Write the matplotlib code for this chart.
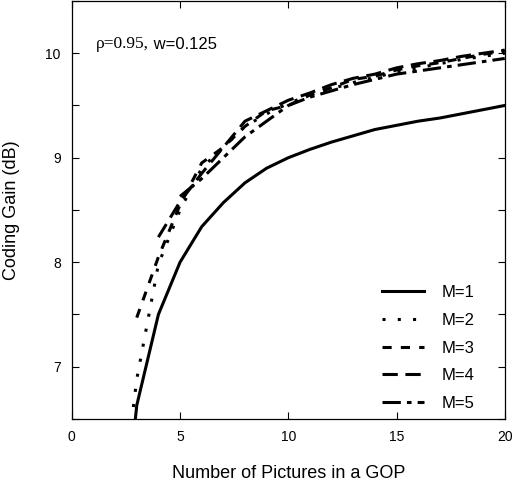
import numpy as np
import matplotlib.pyplot as plt

plt.rcParams['font.family'] = ['Liberation Sans', 'DejaVu Sans']

n1 = np.arange(1, 21)
m1 = [2.0, 4.6, 6.63, 7.5, 8.0, 8.34, 8.57, 8.76, 8.9, 9.0,
      9.08, 9.15, 9.21, 9.27, 9.31, 9.35, 9.38, 9.42, 9.46, 9.5]

n2 = np.arange(2, 21)
m2 = [5.2, 6.88, 7.98, 8.5, 8.9, 9.1, 9.3, 9.42, 9.52,
      9.6, 9.66, 9.72, 9.77, 9.82, 9.86, 9.9, 9.94, 9.97, 10.0]

n3 = np.arange(3, 21)
m3 = [7.47, 8.05, 8.55, 8.95, 9.1, 9.3, 9.45, 9.5,
      9.6, 9.67, 9.75, 9.78, 9.84, 9.88, 9.91, 9.95, 9.99, 10.02]

n4 = np.arange(4, 21)
m4 = [8.24, 8.58, 8.85, 9.1, 9.35, 9.45, 9.55,
      9.62, 9.7, 9.76, 9.8, 9.86, 9.9, 9.93, 9.97, 10.0, 10.03]

n5 = np.arange(5, 21)
m5 = [8.63, 8.8, 9.0, 9.2, 9.35, 9.5,
      9.58, 9.64, 9.7, 9.75, 9.8, 9.83, 9.86, 9.89, 9.92, 9.95]

fig = plt.figure(figsize=(5.28, 4.97), dpi=100)
ax = fig.add_axes([0.136, 0.157, 0.82, 0.841])

lw = 2.2
ax.plot(n1, m1, color='black', lw=lw, linestyle='-', label='M=1')
ax.plot(n2, m2, color='black', lw=lw, linestyle=(0, (1, 4)), label='M=2')
ax.plot(n3, m3, color='black', lw=lw, linestyle=(0, (3, 3)), label='M=3')
ax.plot(n4, m4, color='black', lw=lw, linestyle=(0, (5, 2.5)), label='M=4')
ax.plot(n5, m5, color='black', lw=lw, linestyle=(0, (6, 2, 1.5, 2)), label='M=5')

ax.set_xlim(0, 20)
ax.set_ylim(6.5, 10.5)
ax.set_xticks([0, 5, 10, 15, 20])
ax.set_yticks([7, 8, 9, 10])
ax.set_yticks([6.5, 7.5, 8.5, 9.5, 10.5], minor=True)
ax.tick_params(which='both', direction='in', top=True, right=True,
               length=5, width=0.8, labelsize=10)
ax.tick_params(axis='x', pad=8)
ax.tick_params(axis='y', pad=8)
for s in ax.spines.values():
    s.set_linewidth(0.9)

ax.set_xlabel('Number of Pictures in a GOP', fontsize=13, labelpad=15)
ax.set_ylabel('Coding Gain (dB)', fontsize=13, labelpad=18)

t1 = ax.text(0.055, 0.897, 'ρ=0.95,', transform=ax.transAxes, fontsize=12.5,
             family='Liberation Serif', va='center')
ax.annotate(' w=0.125', xy=(1, 0), xycoords=t1, va='bottom', fontsize=12,
            family='Liberation Sans')

ax.legend(loc='upper left', bbox_to_anchor=(0.702, 0.336), frameon=False,
          fontsize=12, handlelength=2.5, handletextpad=1.05, labelspacing=0.76,
          borderaxespad=0)

fig.savefig('out.png', dpi=100)
